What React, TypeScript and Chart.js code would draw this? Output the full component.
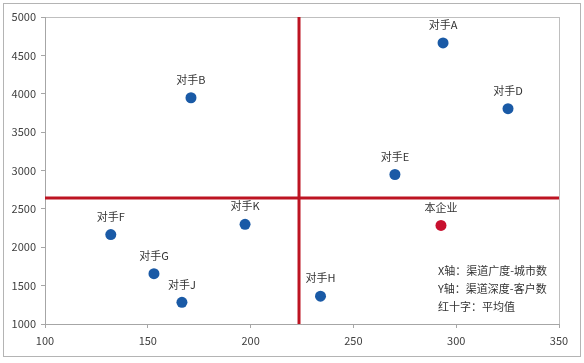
import React, { useEffect, useRef } from "react";
import { Chart, registerables } from "chart.js";

Chart.register(...registerables);

const names = ["对手A", "对手B", "对手D", "对手E", "对手K", "对手F", "对手G", "对手J", "对手H", "本企业"];
const xValues = [293.6, 171, 325.2, 270.2, 197.3, 132, 153, 166.6, 234, 292.6];
const yValues = [4662, 3948, 3805, 2948, 2299, 2165, 1655, 1282, 1362, 2285];
const pointColors = ["#1a5aa6", "#1a5aa6", "#1a5aa6", "#1a5aa6", "#1a5aa6", "#1a5aa6", "#1a5aa6", "#1a5aa6", "#1a5aa6", "#c8102e"];
const xTicks = [100, 150, 200, 250, 300, 350];
const yTicks = [1000, 1500, 2000, 2500, 3000, 3500, 4000, 4500, 5000];
const noteLines = ["X轴：渠道广度-城市数", "Y轴：渠道深度-客户数", "红十字：平均值"];

const FONT = "'Noto Sans CJK SC', 'Noto Sans', sans-serif";

export default function App() {
  const ref = useRef<HTMLCanvasElement | null>(null);
  useEffect(() => {
    const canvas = ref.current;
    if (!canvas) return;
    const meanX = xValues.reduce((a, b) => a + b, 0) / xValues.length;
    const meanY = yValues.reduce((a, b) => a + b, 0) / yValues.length;
    const xMin = xTicks[0], xMax = xTicks[xTicks.length - 1];
    const yMin = yTicks[0], yMax = yTicks[yTicks.length - 1];

    const decor = {
      id: "decor",
      beforeDraw(chart: any) {
        const ctx = chart.ctx;
        ctx.save();
        ctx.fillStyle = "#ffffff";
        ctx.fillRect(0, 0, chart.width, chart.height);
        ctx.strokeStyle = "#b4b4b4";
        ctx.lineWidth = 1;
        ctx.strokeRect(3.5, 3.5, 577, 353);
        const a = chart.chartArea;
        ctx.strokeStyle = "#bfbfbf";
        ctx.strokeRect(a.left + 0.5, a.top + 0.5, a.right - a.left, a.bottom - a.top);
        ctx.restore();
      },
      afterDatasetsDraw(chart: any) {
        const ctx = chart.ctx;
        const meta = chart.getDatasetMeta(2);
        ctx.save();
        ctx.font = "11px " + FONT;
        ctx.fillStyle = "#333333";
        ctx.textAlign = "center";
        ctx.textBaseline = "middle";
        meta.data.forEach((el: any, i: number) => {
          ctx.fillText(names[i], el.x, el.y - 18);
        });
        ctx.textAlign = "left";
        noteLines.forEach((t, i) => {
          ctx.fillText(t, 438, 271 + i * 18);
        });
        ctx.restore();
      },
    };

    const chart = new Chart(canvas, {
      type: "scatter",
      data: {
        datasets: [
          {
            data: [{ x: meanX, y: yMin }, { x: meanX, y: yMax }],
            showLine: true,
            borderColor: "#bd1422",
            borderWidth: 3,
            pointRadius: 0,
          },
          {
            data: [{ x: xMin, y: meanY }, { x: xMax, y: meanY }],
            showLine: true,
            borderColor: "#bd1422",
            borderWidth: 3,
            pointRadius: 0,
          },
          {
            data: xValues.map((x, i) => ({ x, y: yValues[i] })),
            pointRadius: 5.5,
            pointBackgroundColor: pointColors,
            pointBorderColor: pointColors,
            pointBorderWidth: 0,
          },
        ],
      },
      options: {
        animation: false,
        responsive: false,
        layout: { padding: { top: 17, right: 25, left: 0, bottom: 0 } },
        plugins: { legend: { display: false }, tooltip: { enabled: false } },
        scales: {
          x: {
            type: "linear",
            min: xMin,
            max: xMax,
            afterBuildTicks: (s: any) => { s.ticks = xTicks.map((v) => ({ value: v })); },
            afterFit: (s: any) => { s.height = 39; },
            grid: { display: true, drawOnChartArea: false, tickLength: 4, color: "#a6a6a6" },
            border: { color: "#a6a6a6" },
            ticks: { color: "#404040", font: { size: 11, family: FONT }, padding: 6, maxRotation: 0, callback: (v: any) => String(v) },
          },
          y: {
            type: "linear",
            min: yMin,
            max: yMax,
            afterBuildTicks: (s: any) => { s.ticks = yTicks.map((v) => ({ value: v })); },
            afterFit: (s: any) => { s.width = 45; },
            grid: { display: true, drawOnChartArea: false, tickLength: 4, color: "#a6a6a6" },
            border: { color: "#a6a6a6" },
            ticks: { color: "#404040", font: { size: 11, family: FONT }, padding: 5, callback: (v: any) => String(v) },
          },
        },
      },
      plugins: [decor],
    } as any);
    return () => chart.destroy();
  }, []);

  return (
    <div style={{ position: "absolute", left: 0, top: 0, width: 584, height: 363 }}>
      <canvas ref={ref} width={584} height={363} style={{ display: "block", width: 584, height: 363 }} />
    </div>
  );
}
